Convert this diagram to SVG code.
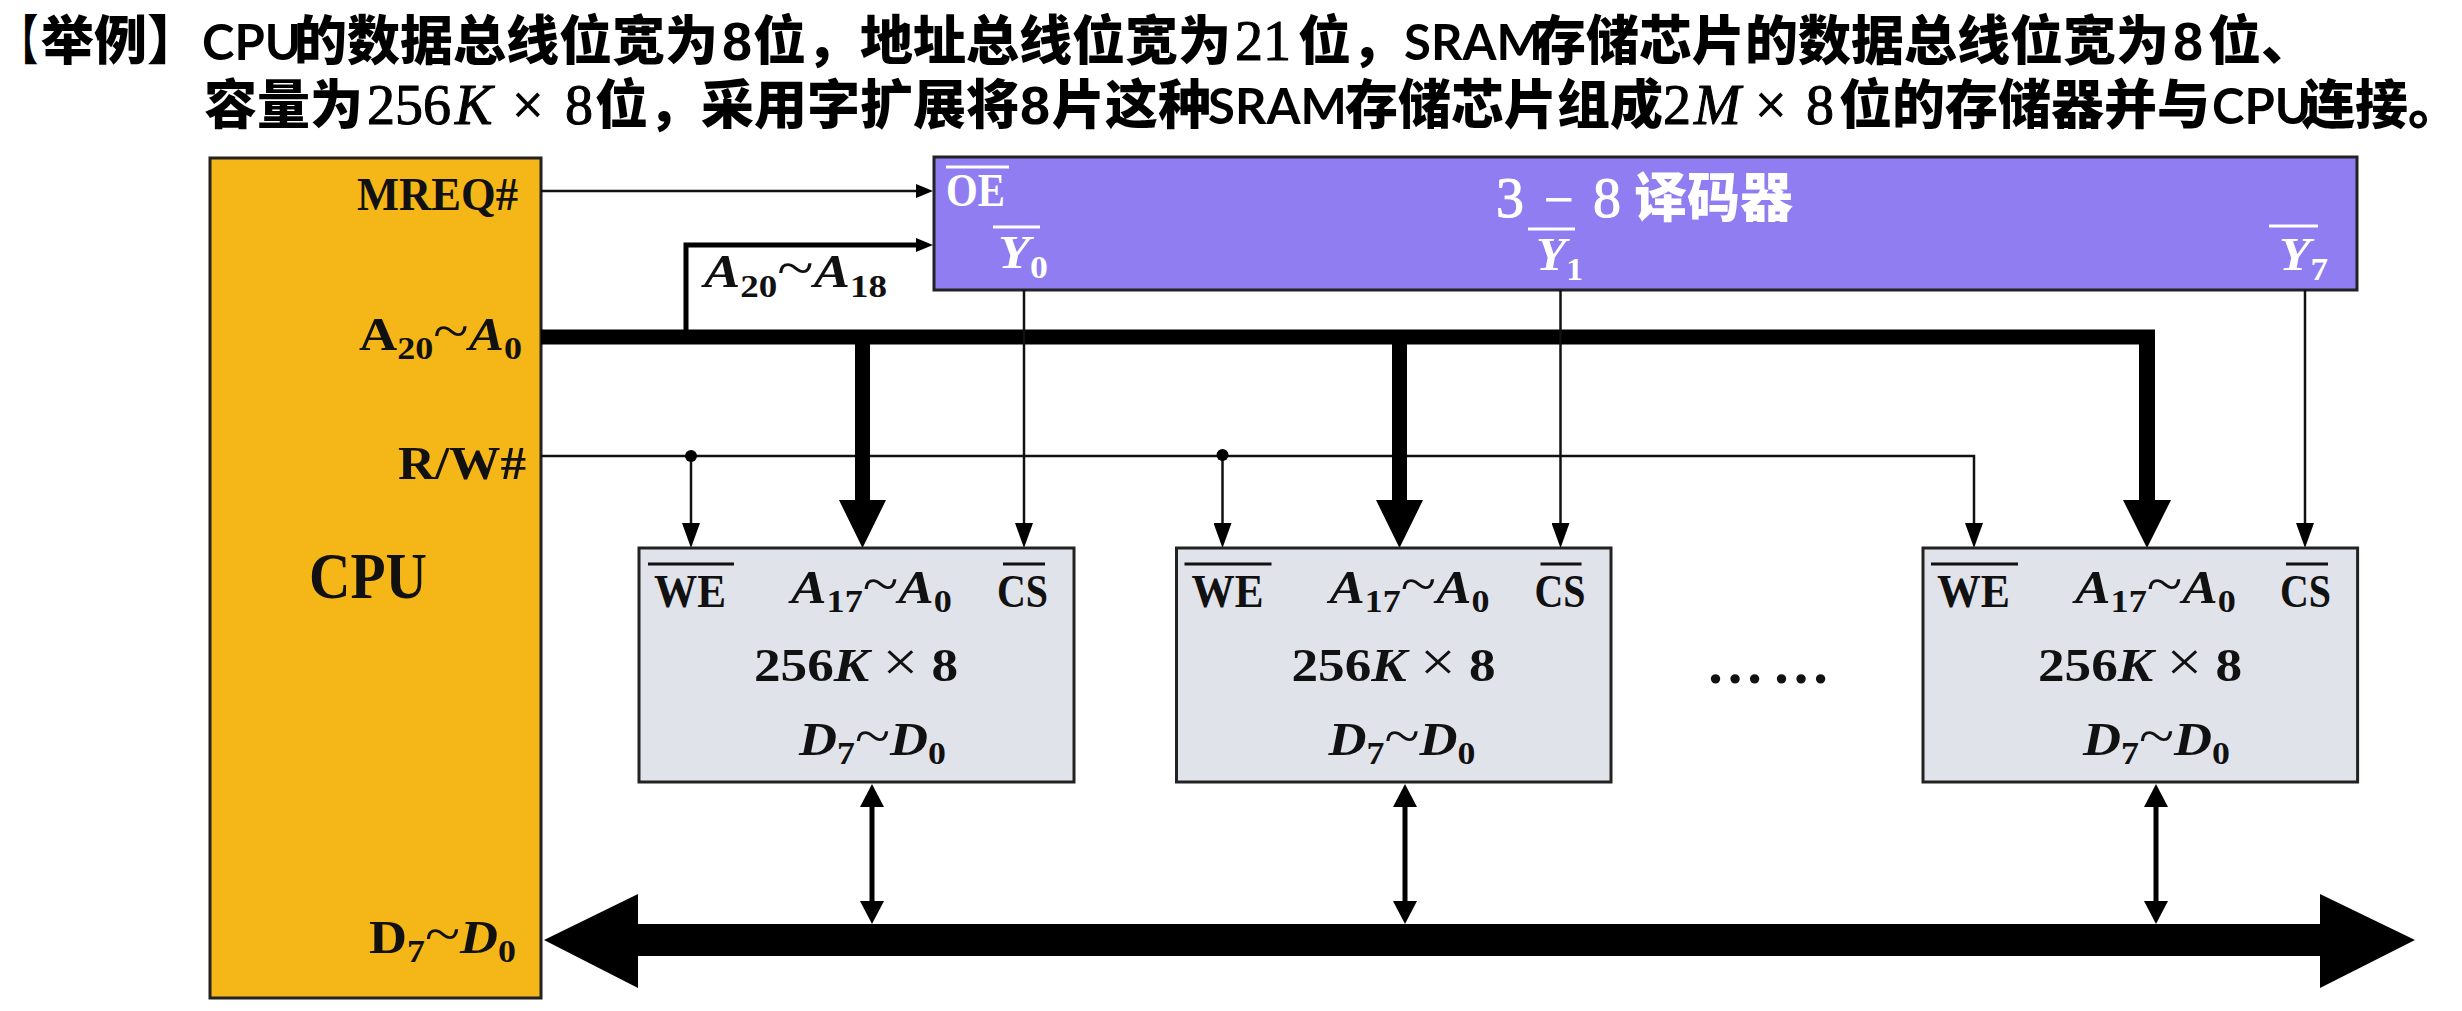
<svg xmlns="http://www.w3.org/2000/svg" width="2462" height="1011" viewBox="0 0 2462 1011">
<style>
.hd{font-family:"Liberation Sans","Noto Sans CJK SC",sans-serif;font-weight:900;font-size:53px;fill:#000}
.t{font-family:Lato,"Liberation Sans",sans-serif;font-weight:700;font-size:49px}
.d{font-family:"Liberation Sans",sans-serif;font-weight:700;font-size:54px}
.tm{font-family:"Liberation Serif",serif;font-weight:400;font-size:56px;stroke:#000;stroke-width:1}
.i{font-style:italic}
.l{font-family:"Liberation Serif",serif;font-weight:700;font-size:47px;fill:#111}
.s{font-size:32px;font-style:normal}
.tl{font-size:58px;font-style:normal;font-weight:400}
.x{font-size:56px;font-style:normal;font-weight:400}
.w{fill:#fff}
.box{stroke:#222;stroke-width:3}
.bar{stroke:#111;stroke-width:3}
.barw{stroke:#fff;stroke-width:3}
.thin{fill:none;stroke:#111;stroke-width:2.500}
.mid{fill:none;stroke:#000;stroke-width:5}
.bi{fill:none;stroke:#000;stroke-width:5;marker-start:url(#b);marker-end:url(#b)}
</style>
<defs>
<marker id="v" markerUnits="userSpaceOnUse" markerWidth="26" markerHeight="18" refX="3" refY="9" orient="auto"><path d="M0 0L25 9L0 18Z" fill="#000"/></marker>
<marker id="h" markerUnits="userSpaceOnUse" markerWidth="18" markerHeight="16" refX="3" refY="8" orient="auto"><path d="M0 1L17 8L0 15Z" fill="#000"/></marker>
<marker id="b" markerUnits="userSpaceOnUse" markerWidth="24" markerHeight="24" refX="3" refY="12" orient="auto-start-reverse"><path d="M0 0L23 12L0 24Z" fill="#000"/></marker>
</defs>
<rect width="2462" height="1011" fill="#fff"/>
<g id="title">
<text class="hd" transform="translate(0,60) scale(0.72,1)">【</text>
<text class="hd" y="60"><tspan x="41">举例】</tspan><tspan class="t" x="202">CPU</tspan><tspan x="294">的数据总线位宽为</tspan><tspan class="d" x="722">8</tspan><tspan x="753">位，</tspan><tspan x="860">地址总线位宽为</tspan><tspan class="tm" x="1235">21</tspan><tspan x="1298">位，</tspan><tspan class="t" x="1404">SRAM</tspan><tspan x="1533">存储芯片的数据总线位宽为</tspan><tspan class="d" x="2173">8</tspan><tspan x="2208">位、</tspan></text>
<text class="hd" y="124"><tspan x="204">容量为</tspan><tspan class="tm" x="367">256</tspan><tspan class="tm i" x="455">K</tspan><tspan class="tm" x="512">×</tspan><tspan class="tm" x="565">8</tspan><tspan x="595">位，</tspan><tspan x="701">采用字扩展将</tspan><tspan class="d" x="1020">8</tspan><tspan x="1052">片这种</tspan><tspan class="t" x="1208">SRAM</tspan><tspan x="1345">存储芯片组成</tspan><tspan class="tm" x="1663">2</tspan><tspan class="tm i" x="1694">M</tspan><tspan class="tm" x="1755">×</tspan><tspan class="tm" x="1806">8</tspan><tspan x="1839">位的存储器并与</tspan><tspan class="t" x="2212">CPU</tspan><tspan x="2302">连接。</tspan></text>
</g>
<g id="cpu">
<rect class="box" x="210" y="158" width="331" height="840" fill="#F5B718"/>
<text class="l" x="357" y="210" textLength="161" lengthAdjust="spacingAndGlyphs">MREQ#</text>
<text class="l" x="359" y="350" textLength="163" lengthAdjust="spacingAndGlyphs">A<tspan class="s" dy="9">20</tspan><tspan class="tl" dy="-9">~</tspan><tspan class="i">A</tspan><tspan class="s" dy="9">0</tspan></text>
<text class="l" x="398" y="479" textLength="128" lengthAdjust="spacingAndGlyphs">R/W#</text>
<text class="l" x="309" y="598" style="font-size:65px" textLength="118" lengthAdjust="spacingAndGlyphs">CPU</text>
<text class="l" x="369" y="953" textLength="147" lengthAdjust="spacingAndGlyphs">D<tspan class="s" dy="9">7</tspan><tspan class="tl" dy="-9">~</tspan><tspan class="i">D</tspan><tspan class="s" dy="9">0</tspan></text>
</g>
<g id="decoder">
<rect class="box" x="934" y="157" width="1423" height="133" fill="#8F7DF1"/>
<line class="barw" x1="946" x2="1009" y1="167" y2="167"/>
<text class="l w" x="946" y="206" textLength="59" lengthAdjust="spacingAndGlyphs">OE</text>
<line class="barw" x1="993" x2="1040" y1="227" y2="227"/>
<text class="l w i" x="998" y="268" textLength="50" lengthAdjust="spacingAndGlyphs">Y<tspan class="s" dy="10">0</tspan></text>
<line class="barw" x1="1528" x2="1575" y1="229" y2="229"/>
<text class="l w i" x="1536" y="270" textLength="47" lengthAdjust="spacingAndGlyphs">Y<tspan class="s" dy="10">1</tspan></text>
<line class="barw" x1="2269" x2="2318" y1="226" y2="226"/>
<text class="l w i" x="2279" y="270" textLength="49" lengthAdjust="spacingAndGlyphs">Y<tspan class="s" dy="10">7</tspan></text>
<text class="hd w" y="217" style="fill:#fff"><tspan class="tm" x="1496" style="stroke:#fff">3</tspan><tspan class="tm" x="1544" style="stroke:#fff;font-size:52px">−</tspan><tspan class="tm" x="1593" style="stroke:#fff">8</tspan><tspan x="1634">译码器</tspan></text>
</g>
<g id="connectors">
<path class="thin" d="M541 191H919" marker-end="url(#h)"/>
<path class="mid" d="M686 330V245H919" marker-end="url(#h)"/>
<path d="M541 329.500H2155V344.500H541Z" fill="#000"/>
<path class="thin" d="M541 456H1974V526" marker-end="url(#v)"/>
<path class="thin" d="M691 456V526" marker-end="url(#v)"/>
<path class="thin" d="M1222.500 456V526" marker-end="url(#v)"/>
<circle cx="691" cy="456" r="6" fill="#000"/>
<circle cx="1222.500" cy="455" r="6" fill="#000"/>
<path class="thin" d="M1024 290V526" marker-end="url(#v)"/>
<path class="thin" d="M1560.500 290V526" marker-end="url(#v)"/>
<path class="thin" d="M2305 290V526" marker-end="url(#v)"/>
<path d="M855 340H870V500H886L862.500 548L839 500H855Z" fill="#000"/>
<path d="M1392 340H1407V500H1423L1399.500 548L1376 500H1392Z" fill="#000"/>
<path d="M2139 340H2155V500H2171L2147 548L2123 500H2139Z" fill="#000"/>
<path class="bi" d="M872 804V904"/>
<path class="bi" d="M1405 804V904"/>
<path class="bi" d="M2156 804V904"/>
<path d="M544 940L638 894V924H2320V894L2415 940L2320 988V956H638V988Z" fill="#000"/>
</g>
<g id="chip-1" transform="translate(639,548)">
<rect class="box" width="435" height="234" fill="#E1E3EB"/>
<line class="bar" x1="9" x2="95" y1="16" y2="16"/>
<text class="l" x="15" y="59" textLength="72" lengthAdjust="spacingAndGlyphs">WE</text>
<text class="l i" x="152" y="55" textLength="161" lengthAdjust="spacingAndGlyphs">A<tspan class="s" dy="9">17</tspan><tspan class="tl" dy="-9">~</tspan>A<tspan class="s" dy="9">0</tspan></text>
<line class="bar" x1="364" x2="406" y1="16" y2="16"/>
<text class="l" x="358" y="59" textLength="51" lengthAdjust="spacingAndGlyphs">CS</text>
<text class="l" x="115" y="133" textLength="204" lengthAdjust="spacingAndGlyphs">256<tspan class="i">K</tspan> <tspan class="x">×</tspan> 8</text>
<text class="l i" x="160" y="207" textLength="147" lengthAdjust="spacingAndGlyphs">D<tspan class="s" dy="9">7</tspan><tspan class="tl" dy="-9">~</tspan>D<tspan class="s" dy="9">0</tspan></text>
</g>
<g id="chip-2" transform="translate(1176.500,548)">
<rect class="box" width="434.500" height="234" fill="#E1E3EB"/>
<line class="bar" x1="8" x2="95" y1="16" y2="16"/>
<text class="l" x="15" y="59" textLength="72" lengthAdjust="spacingAndGlyphs">WE</text>
<text class="l i" x="153" y="55" textLength="160" lengthAdjust="spacingAndGlyphs">A<tspan class="s" dy="9">17</tspan><tspan class="tl" dy="-9">~</tspan>A<tspan class="s" dy="9">0</tspan></text>
<line class="bar" x1="364" x2="405" y1="16" y2="16"/>
<text class="l" x="358" y="59" textLength="51" lengthAdjust="spacingAndGlyphs">CS</text>
<text class="l" x="115" y="133" textLength="204" lengthAdjust="spacingAndGlyphs">256<tspan class="i">K</tspan> <tspan class="x">×</tspan> 8</text>
<text class="l i" x="152" y="207" textLength="147" lengthAdjust="spacingAndGlyphs">D<tspan class="s" dy="9">7</tspan><tspan class="tl" dy="-9">~</tspan>D<tspan class="s" dy="9">0</tspan></text>
</g>
<g id="chip-3" transform="translate(1923,548)">
<rect class="box" width="434.600" height="234" fill="#E1E3EB"/>
<line class="bar" x1="8" x2="95" y1="16" y2="16"/>
<text class="l" x="14" y="59" textLength="73" lengthAdjust="spacingAndGlyphs">WE</text>
<text class="l i" x="152" y="55" textLength="161" lengthAdjust="spacingAndGlyphs">A<tspan class="s" dy="9">17</tspan><tspan class="tl" dy="-9">~</tspan>A<tspan class="s" dy="9">0</tspan></text>
<line class="bar" x1="363" x2="405" y1="16" y2="16"/>
<text class="l" x="357" y="59" textLength="51" lengthAdjust="spacingAndGlyphs">CS</text>
<text class="l" x="115" y="133" textLength="204" lengthAdjust="spacingAndGlyphs">256<tspan class="i">K</tspan> <tspan class="x">×</tspan> 8</text>
<text class="l i" x="160" y="207" textLength="147" lengthAdjust="spacingAndGlyphs">D<tspan class="s" dy="9">7</tspan><tspan class="tl" dy="-9">~</tspan>D<tspan class="s" dy="9">0</tspan></text>
</g>
<g id="labels">
<text class="l i" x="704" y="287" textLength="183" lengthAdjust="spacingAndGlyphs">A<tspan class="s" dy="10">20</tspan><tspan class="tl" dy="-10">~</tspan>A<tspan class="s" dy="10">18</tspan></text>
<text class="l" x="1706 1772" y="683" style="font-size:58px">……</text>
</g>
</svg>
